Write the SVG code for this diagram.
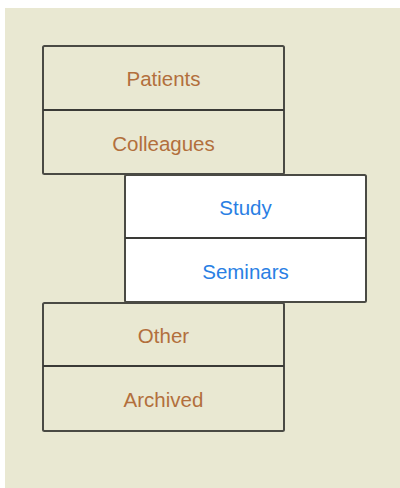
<svg xmlns="http://www.w3.org/2000/svg" width="400" height="488" viewBox="0 0 400 488">
<style>
.box{stroke:#4a4a44;stroke-width:2;}
.beige{fill:#e9e8d2;}
.white{fill:#ffffff;}
.div{stroke:#3a3a36;stroke-width:2;}
text{font-family:"Liberation Sans",Arial,sans-serif;font-size:20.5px;text-anchor:middle;}
.br{fill:#b26f3c;}
.bl{fill:#2a7fe4;}
</style>
<rect x="0" y="0" width="400" height="488" fill="#ffffff"/>
<rect x="5" y="8" width="395" height="480" fill="#e9e8d2"/>
<g id="group-top">
<rect class="box beige" x="43" y="46" width="241" height="128" rx="1.5"/>
<line class="div" x1="43" y1="110" x2="284" y2="110"/>
<text class="br" x="163.5" y="86">Patients</text>
<text class="br" x="163.5" y="150.5">Colleagues</text>
</g>
<g id="group-mid">
<rect class="box white" x="125" y="175" width="241" height="127" rx="1.5"/>
<line class="div" x1="125" y1="238" x2="366" y2="238"/>
<text class="bl" x="245.5" y="214.5">Study</text>
<text class="bl" x="245.5" y="278.5">Seminars</text>
</g>
<g id="group-bottom">
<rect class="box beige" x="43" y="303" width="241" height="128" rx="1.5"/>
<line class="div" x1="43" y1="366" x2="284" y2="366"/>
<text class="br" x="163.5" y="342.5">Other</text>
<text class="br" x="163.5" y="406.5">Archived</text>
</g>
</svg>
